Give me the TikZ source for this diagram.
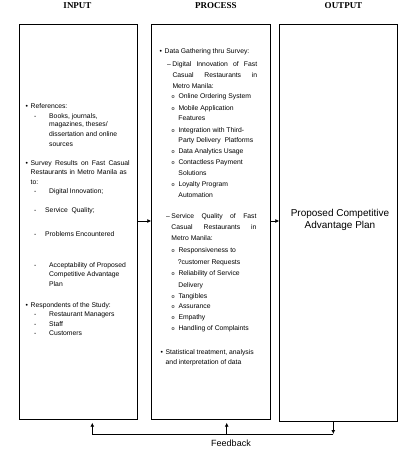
\documentclass[tikz,border=0pt]{standalone}
\usepackage{fontspec}
\setmainfont{Liberation Sans}
\newfontfamily\hdfont{Liberation Serif}
\usetikzlibrary{arrows.meta}
\newcommand{\mybul}{\makebox[5pt][l]{•}}
\newcommand{\mydsh}[1]{\makebox[#1][l]{-}}
\newcommand{\myndsh}{\makebox[5.3pt][l]{–}}
\newcommand{\mysubo}{\makebox[6.8pt][l]{\fontsize{5.5}{6}\selectfont o}}
\begin{document}
\begin{tikzpicture}[x=1pt,y=-1pt,
 box/.style={draw, line width=0.9pt, inner sep=0pt, anchor=north west},
 tx/.style={inner sep=0pt, anchor=west, font=\fontsize{6.8}{8}\selectfont, text height=0.72em, text depth=0pt},
 hd/.style={inner sep=0pt, font=\hdfont\bfseries\fontsize{9}{10}\selectfont},
 arr/.style={line width=0.9pt, -{Latex[length=4pt,width=4pt]}},
 ln/.style={line width=0.9pt}]
\useasboundingbox (0,0) rectangle (405,451);
% headers
\node[hd] (hin) at (77.5,5.5) {INPUT};
\node[hd] (hpr) at (215.8,5.5) {PROCESS};
\node[hd] (hout) at (343.5,5.5) {OUTPUT};
% boxes
\node[box, minimum width=118pt, minimum height=395.3pt] (inbox) at (19.3,24) {};
\node[box, minimum width=118.4pt, minimum height=395pt] (procbox) at (151.3,24.3) {};
\node[box, minimum width=117.4pt, minimum height=397.3pt] (outbox) at (279.3,24) {};
% input texts
\node[tx] (i1) at (25.5,105.3) {\mybul References:};
\node[tx] (i2) at (34,114.7) {\mydsh{15pt}Books, journals,};
\node[tx] (i3) at (49,123.3) {magazines, theses/};
\node[tx] (i4) at (49,132.7) {dissertation and online};
\node[tx] (i5) at (49,142.7) {sources};
\node[tx] (i6) at (25.5,162) {\mybul\hbox to 99pt{Survey\hfill Results\hfill on\hfill Fast\hfill Casual}};
\node[tx] (i7) at (30.5,171.3) {\hbox to 96pt{Restaurants\hfill in\hfill Metro\hfill Manila\hfill as}};
\node[tx] (i8) at (30.5,180.7) {to:};
\node[tx] (i9) at (34,190) {\mydsh{15pt}Digital Innovation;};
\node[tx] (i10) at (34,209) {\mydsh{11pt}Service\ \ Quality;};
\node[tx] (i11) at (34,233.3) {\mydsh{11pt}Problems Encountered};
\node[tx] (i12) at (34,264) {\mydsh{15pt}Acceptability of Proposed};
\node[tx] (i13) at (49,273.3) {Competitive Advantage};
\node[tx] (i14) at (49,282.7) {Plan};
\node[tx] (i15) at (25.5,304) {\mybul Respondents of the Study:};
\node[tx] (i16) at (34,313.3) {\mydsh{15pt}Restaurant Managers};
\node[tx] (i17) at (34,322.7) {\mydsh{15pt}Staff};
\node[tx] (i18) at (34,332) {\mydsh{15pt}Customers};
% process texts
\node[tx] (p1) at (159.5,50) {\mybul Data Gathering thru Survey:};
\node[tx] (p2) at (167,62.7) {\myndsh\hbox to 84.7pt{Digital\hfill Innovation\hfill of\hfill Fast}};
\node[tx] (p3) at (172.3,73.7) {\hbox to 84.7pt{Casual\hfill Restaurants\hfill in}};
\node[tx] (p4) at (172.3,84.7) {Metro Manila:};
\node[tx] (p5) at (171.5,95.3) {\mysubo Online Ordering System};
\node[tx] (p6) at (171.5,106.7) {\mysubo Mobile Application};
\node[tx] (p7) at (178.3,117.3) {Features};
\node[tx] (p8) at (171.5,128.7) {\mysubo Integration with Third-};
\node[tx] (p9) at (178.3,139.3) {Party Delivery\ \ Platforms};
\node[tx] (p10) at (171.5,150) {\mysubo Data Analytics Usage};
\node[tx] (p11) at (171.5,160.7) {\mysubo Contactless Payment};
\node[tx] (p12) at (178.3,172) {Solutions};
\node[tx] (p13) at (171.5,183.3) {\mysubo Loyalty Program};
\node[tx] (p14) at (178.3,194) {Automation};
\node[tx] (p15) at (166,215.3) {\myndsh\hbox to 85pt{Service\hfill Quality\hfill of\hfill Fast}};
\node[tx] (p16) at (171.3,226) {\hbox to 85pt{Casual\hfill Restaurants\hfill in}};
\node[tx] (p17) at (171.3,237.3) {Metro Manila:};
\node[tx] (p18) at (171.5,249.3) {\mysubo Responsiveness to};
\node[tx] (p19) at (177.7,260.7) {?customer Requests};
\node[tx] (p20) at (171.5,272) {\mysubo Reliability of Service};
\node[tx] (p21) at (178.3,283.5) {Delivery};
\node[tx] (p22) at (171.5,294.7) {\mysubo Tangibles};
\node[tx] (p23) at (171.5,305.3) {\mysubo Assurance};
\node[tx] (p24) at (171.5,316) {\mysubo Empathy};
\node[tx] (p25) at (171.5,326.7) {\mysubo Handling of Complaints};
\node[tx] (p26) at (160.5,350.7) {\mybul Statistical treatment, analysis};
\node[tx] (p27) at (165.5,361.3) {and interpretation of data};
% output text
\node[inner sep=0pt, align=center, font=\fontsize{10}{12}\selectfont] (o1) at (340,220) {Proposed Competitive\\Advantage Plan};
% arrows
\coordinate (ya) at (0,221);
\draw[arr] (inbox.east |- ya) -- (procbox.west |- ya);
\draw[arr] (procbox.east |- ya) -- (outbox.west |- ya);
% feedback
\coordinate (fbL) at (92.3,434);
\coordinate (fbM) at (226.7,434);
\coordinate (fbR) at (333.3,434);
\draw[arr] (outbox.south -| fbR) -- (fbR);
\draw[ln] (fbR) -- (fbL);
\draw[arr, shorten >=2.5pt] (fbL) -- (fbL |- inbox.south);
\draw[arr, shorten >=2.5pt] (fbM) -- (fbM |- procbox.south);
\node[inner sep=0pt, font=\fontsize{9}{10}\selectfont] (fb) at (231,443) {Feedback};
\end{tikzpicture}
\end{document}
